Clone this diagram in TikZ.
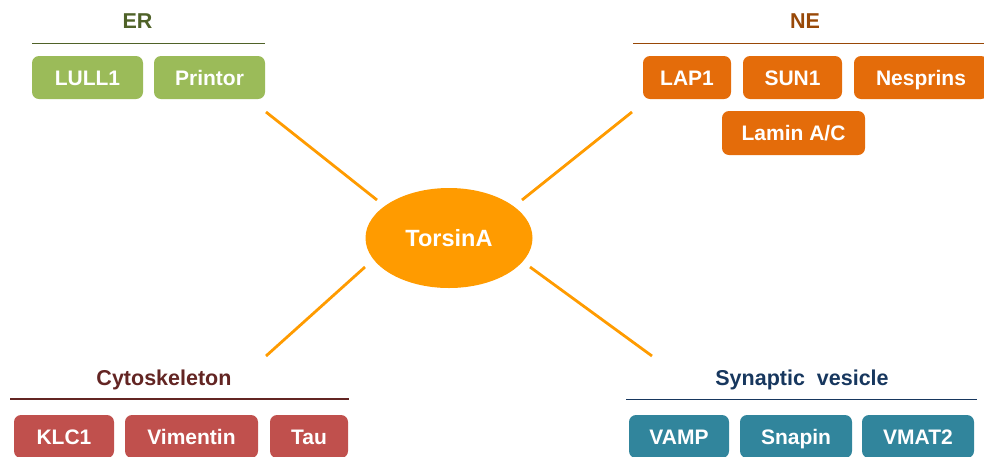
\documentclass[tikz,border=0pt]{standalone}
\usepackage{tikz}
\usepackage{xcolor}
\usepackage{fontspec}
\usetikzlibrary{shapes.geometric}
\setmainfont{Liberation Sans}

\definecolor{torsin}{HTML}{FF9B00}
\definecolor{ergreen}{HTML}{9BBB59}
\definecolor{erdark}{HTML}{4F6228}
\definecolor{neorange}{HTML}{E46C0A}
\definecolor{nedark}{HTML}{984807}
\definecolor{cytored}{HTML}{C0504D}
\definecolor{cytodark}{HTML}{632523}
\definecolor{svteal}{HTML}{31859C}
\definecolor{svdark}{HTML}{17375E}

\begin{document}
\begin{tikzpicture}[x=1pt,y=-1pt]
				\tikzstyle{every node}+=[inner sep=0pt]
				\tikzstyle{protein}=[rounded corners=7pt, minimum height=43pt, text=white, text height=15pt, text depth=0pt, font=\fontsize{21}{25}\selectfont\bfseries]
				\tikzstyle{group}=[text height=15.5pt, text depth=0pt, font=\fontsize{21.5}{26}\selectfont\bfseries]
				\tikzstyle{spoke}=[torsin, line width=2.8pt]
				\useasboundingbox (0,0) rectangle (984,456);
				\node [ellipse, fill=torsin, minimum width=167pt, minimum height=100pt, text=white, font=\fontsize{23.5}{28}\selectfont\bfseries] (torsinA) at (449,238) {TorsinA};
				% ER
				\node [group, text=erdark] (er) at (137.5,21) {ER};
				\coordinate (erL) at (32,43.5);
				\coordinate (erR) at (265,43.5);
				\draw [erdark, line width=1.8pt] (erL) -- (erR);
				\node [protein, fill=ergreen, minimum width=111pt] (lull) at (87.5,77.5) {LULL1};
				\node [protein, fill=ergreen, minimum width=111pt] (printor) at (209.5,77.5) {Printor};
				% NE
				\node [group, text=nedark] (ne) at (805,21) {NE};
				\coordinate (neL) at (633,43.5);
				\coordinate (neR) at (984,43.5);
				\draw [nedark, line width=1.8pt] (neL) -- (neR);
				\node [protein, fill=neorange, minimum width=88pt] (lap) at (687,77.5) {LAP1};
				\node [protein, fill=neorange, minimum width=99pt] (sun) at (792.5,77.5) {SUN1};
				\node [protein, fill=neorange, minimum width=134pt] (nesprins) at (921,77.5) {Nesprins};
				\node [protein, fill=neorange, minimum width=143pt, minimum height=44pt] (lamin) at (793.5,133) {Lamin A/C};
				% Cytoskeleton
				\node [group, text=cytodark] (cyto) at (164,377.5) {Cytoskeleton};
				\coordinate (cyL) at (10,399);
				\coordinate (cyR) at (349,399);
				\draw [cytodark, line width=1.8pt] (cyL) -- (cyR);
				\node [protein, fill=cytored, minimum width=100pt] (klc) at (64,436.5) {KLC1};
				\node [protein, fill=cytored, minimum width=133pt] (vimentin) at (191.5,436.5) {Vimentin};
				\node [protein, fill=cytored, minimum width=78pt] (tau) at (309,436.5) {Tau};
				% Synaptic vesicle
				\node [group, text=svdark] (sv) at (802,377.5) {Synaptic\ \ vesicle};
				\coordinate (svL) at (626,399.5);
				\coordinate (svR) at (977,399.5);
				\draw [svdark, line width=1.8pt] (svL) -- (svR);
				\node [protein, fill=svteal, minimum width=100pt] (vamp) at (679,436.5) {VAMP};
				\node [protein, fill=svteal, minimum width=112pt] (snapin) at (796,436.5) {Snapin};
				\node [protein, fill=svteal, minimum width=112pt] (vmat) at (918,436.5) {VMAT2};
				% spokes
				\coordinate (ulA) at (266,112);
				\coordinate (ulB) at (377,200);
				\coordinate (urA) at (632,112);
				\coordinate (urB) at (522,200);
				\coordinate (llA) at (266,356);
				\coordinate (llB) at (365,267);
				\coordinate (lrA) at (652,356);
				\coordinate (lrB) at (530,267);
				\draw [spoke] (ulA) -- (ulB);
				\draw [spoke] (urA) -- (urB);
				\draw [spoke] (llA) -- (llB);
				\draw [spoke] (lrA) -- (lrB);
\end{tikzpicture}
\end{document}
